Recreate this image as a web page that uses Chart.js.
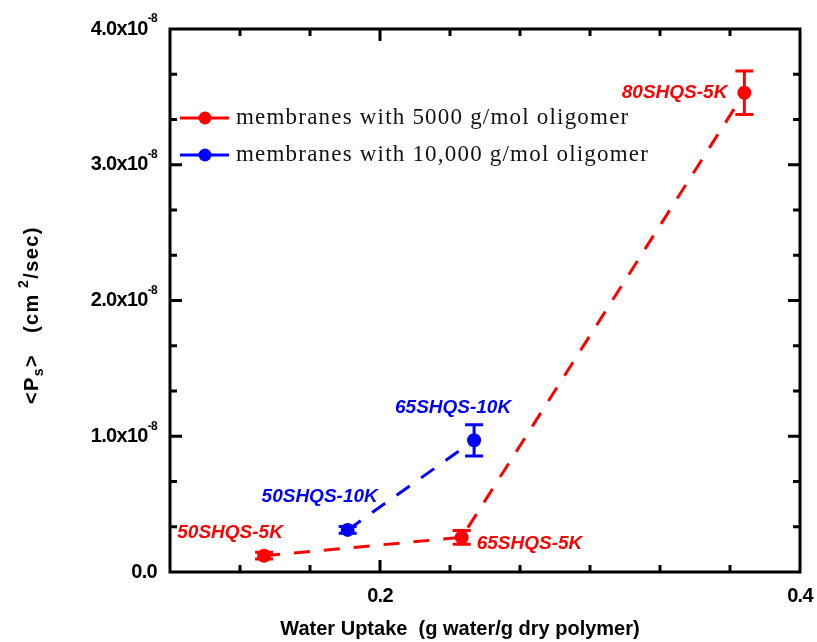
<!DOCTYPE html>
<html>
<head>
<meta charset="utf-8">
<script src="https://cdn.jsdelivr.net/npm/chart.js@4"></script>
<style>
  html, body { margin: 0; padding: 0; background: #fff; }
  #wrap { width: 817px; height: 642px; }
</style>
</head>
<body>
<div id="wrap"><canvas id="permChart" width="817" height="642"></canvas></div>
<script>
// membrane series: water uptake (g/g) vs mean permeability (cm2/sec)
const uptake5K = [0.1448, 0.2389, 0.3735];
const perm5K = [0.12e-8, 0.255e-8, 3.53e-8];
const err5K = [0.025e-8, 0.05e-8, 0.16e-8];
const names5K = ['50SHQS-5K', '65SHQS-5K', '80SHQS-5K'];

const uptake10K = [0.1846, 0.2448];
const perm10K = [0.31e-8, 0.97e-8];
const err10K = [0.025e-8, 0.115e-8];
const names10K = ['50SHQS-10K', '65SHQS-10K'];

const seriesNames = ['membranes with 5000 g/mol oligomer', 'membranes with 10,000 g/mol oligomer'];

const xTickValues = [0.2, 0.4];
const xTickText = ['0.2', '0.4'];
const yTickValues = [0, 1e-8, 2e-8, 3e-8, 4e-8];
const yTickMantissa = ['0.0', '1.0x10', '2.0x10', '3.0x10', '4.0x10'];
const yTickExp = ['', '-8', '-8', '-8', '-8'];

const RED = 'rgb(255, 0, 0)';
const BLUE = 'rgb(0, 0, 255)';
const SANS = '"Liberation Sans", Arial, sans-serif';

function toPoints(xs, ys) {
    return xs.map((x, i) => ({ x: x, y: ys[i] }));
}

// error bars, frame, ticks, labels and the inset legend
const decorations = {
    id: 'decorations',
    afterDatasetsDraw(chart) {
        const ctx = chart.ctx;
        const xs = chart.scales.x, ys = chart.scales.y;
        const sets = [[uptake5K, perm5K, err5K, RED], [uptake10K, perm10K, err10K, BLUE]];
        ctx.save();
        ctx.lineWidth = 3;
        sets.forEach(([ux, py, er, col]) => {
            ctx.strokeStyle = col;
            ux.forEach((u, i) => {
                const px = xs.getPixelForValue(u);
                const top = ys.getPixelForValue(py[i] + er[i]);
                const bot = ys.getPixelForValue(py[i] - er[i]);
                ctx.beginPath();
                ctx.moveTo(px, top); ctx.lineTo(px, bot);
                ctx.moveTo(px - 9, top); ctx.lineTo(px + 9, top);
                ctx.moveTo(px - 9, bot); ctx.lineTo(px + 9, bot);
                ctx.stroke();
            });
        });
        ctx.restore();
    },
    afterDraw(chart) {
        const ctx = chart.ctx;
        const a = chart.chartArea;
        const xs = chart.scales.x, ys = chart.scales.y;
        ctx.save();

        // frame
        ctx.strokeStyle = '#000';
        ctx.lineWidth = 3;
        ctx.strokeRect(a.left, a.top, a.right - a.left, a.bottom - a.top);

        // inward ticks, x: 0.1 .. 0.4 split in thirds of 0.1
        ctx.beginPath();
        for (let i = 1; i < 9; i++) {
            const v = 0.1 + i * 0.1 / 3;
            const len = (i % 6 === 3) ? 12 : 7;
            const px = xs.getPixelForValue(v);
            ctx.moveTo(px, a.bottom); ctx.lineTo(px, a.bottom - len);
            ctx.moveTo(px, a.top); ctx.lineTo(px, a.top + len);
        }
        // y: majors every 1e-8, minors in thirds
        for (let i = 1; i < 12; i++) {
            const v = i * 1e-8 / 3;
            const len = (i % 3 === 0) ? 12 : 7;
            const py = ys.getPixelForValue(v);
            ctx.moveTo(a.left, py); ctx.lineTo(a.left + len, py);
            ctx.moveTo(a.right, py); ctx.lineTo(a.right - len, py);
        }
        ctx.stroke();

        // tick labels
        ctx.fillStyle = '#000';
        ctx.textBaseline = 'middle';
        ctx.font = 'bold 20px ' + SANS;
        ctx.letterSpacing = '-0.7px';
        ctx.textAlign = 'center';
        xTickValues.forEach((v, i) => {
            ctx.fillText(xTickText[i], xs.getPixelForValue(v), a.bottom + 24);
        });
        yTickValues.forEach((v, i) => {
            const py = ys.getPixelForValue(v);
            const right = 157;
            ctx.font = 'bold 12px ' + SANS;
            const ew = yTickExp[i] ? ctx.measureText(yTickExp[i]).width : 0;
            ctx.textAlign = 'left';
            if (yTickExp[i]) ctx.fillText(yTickExp[i], right - ew, py - 10);
            ctx.font = 'bold 20px ' + SANS;
            ctx.textAlign = 'right';
            ctx.fillText(yTickMantissa[i], right - ew, py);
        });

        // x title
        ctx.letterSpacing = '0px';
        ctx.font = 'bold 20px ' + SANS;
        ctx.textAlign = 'center';
        ctx.fillText('Water Uptake  (g water/g dry polymer)', (a.left + a.right) / 2 - 25, 629);

        // y title, rotated, with subscript and superscript
        ctx.save();
        ctx.translate(32, 404);
        ctx.rotate(-Math.PI / 2);
        ctx.textAlign = 'left';
        ctx.letterSpacing = '1.4px';
        const big = 'bold 20px ' + SANS;
        const small = 'bold 14px ' + SANS;
        const parts = [['<P', big, 0], ['s', small, 7], ['>', big, 0], ['   (cm', big, 0], [' 2', small, -8], ['/sec)', big, 0]];
        let cx = 0;
        parts.forEach(([t, f, dy]) => {
            ctx.font = f;
            ctx.fillText(t, cx, dy);
            cx += ctx.measureText(t).width;
        });
        ctx.restore();

        // point labels
        ctx.letterSpacing = '0px';
        ctx.font = 'italic bold 19px ' + SANS;
        ctx.textBaseline = 'alphabetic';
        const place = [
            [uptake5K, perm5K, names5K, RED, [[-34, -18, 'center'], [15, 12, 'left'], [-17, 5, 'right']]],
            [uptake10K, perm10K, names10K, BLUE, [[-28, -28, 'center'], [-21, -27, 'center']]]
        ];
        place.forEach(([ux, py, nm, col, offs]) => {
            ctx.fillStyle = col;
            ux.forEach((u, i) => {
                const [dx, dy, al] = offs[i];
                ctx.textAlign = al;
                ctx.fillText(nm[i], xs.getPixelForValue(u) + dx, ys.getPixelForValue(py[i]) + dy);
            });
        });

        // legend
        const rows = [[RED, 118], [BLUE, 155]];
        rows.forEach(([col, ry], i) => {
            ctx.strokeStyle = col;
            ctx.fillStyle = col;
            ctx.lineWidth = 3;
            ctx.beginPath();
            ctx.moveTo(180, ry); ctx.lineTo(229, ry);
            ctx.stroke();
            ctx.beginPath();
            ctx.arc(205, ry, 6.5, 0, Math.PI * 2);
            ctx.fill();
            ctx.fillStyle = '#111';
            ctx.font = '23px "Liberation Serif", "Times New Roman", serif';
            ctx.letterSpacing = '1.2px';
            ctx.textAlign = 'left';
            ctx.textBaseline = 'middle';
            ctx.fillText(seriesNames[i], 236, ry);
        });

        ctx.restore();
    }
};

new Chart(document.getElementById('permChart'), {
    type: 'scatter',
    data: {
        datasets: [
            {
                label: seriesNames[0],
                data: toPoints(uptake5K, perm5K),
                showLine: true,
                borderColor: RED,
                backgroundColor: RED,
                borderWidth: 3,
                borderDash: [16, 14],
                pointRadius: 7,
                pointBorderWidth: 0,
                pointBackgroundColor: RED
            },
            {
                label: seriesNames[1],
                data: toPoints(uptake10K, perm10K),
                showLine: true,
                borderColor: BLUE,
                backgroundColor: BLUE,
                borderWidth: 3,
                borderDash: [16, 14],
                pointRadius: 7,
                pointBorderWidth: 0,
                pointBackgroundColor: BLUE
            }
        ]
    },
    options: {
        responsive: false,
        animation: false,
        layout: { padding: { left: 170, top: 29, right: 17, bottom: 70 } },
        plugins: {
            legend: { display: false },
            tooltip: { enabled: false }
        },
        scales: {
            x: { type: 'linear', min: 0.1, max: 0.4, display: false },
            y: { type: 'linear', min: 0, max: 4e-8, display: false }
        }
    },
    plugins: [decorations]
});
</script>
</body>
</html>
